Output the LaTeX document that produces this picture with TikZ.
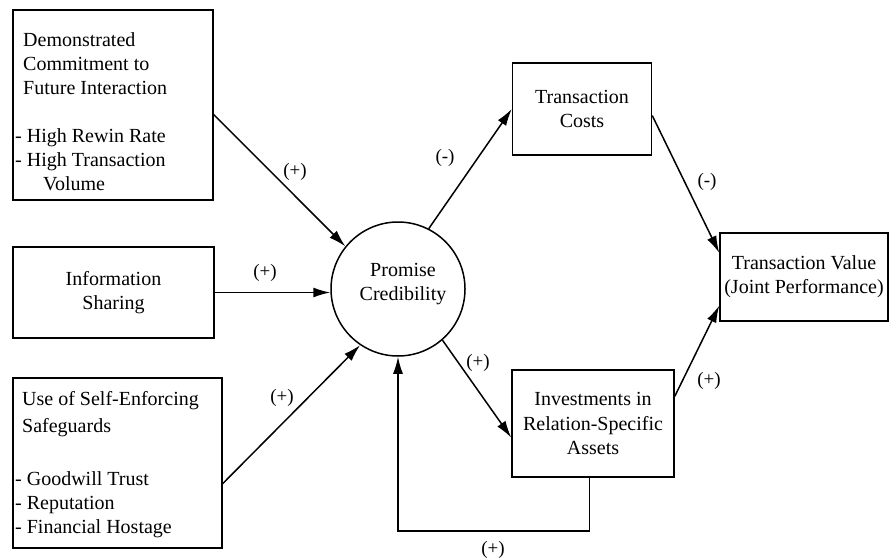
\documentclass[tikz,border=0pt]{standalone}
\usepackage{fontspec}
\setmainfont{Liberation Serif}
\usetikzlibrary{calc,arrows.meta}
\begin{document}
\begin{tikzpicture}[x=1pt,y=-1pt,
  box/.style={draw, line width=1.5pt, inner sep=0pt, rectangle},
  txt/.style={inner sep=0pt, align=left, anchor=north west},
  btxt/.style={align=center, font=\fontsize{20}{24}\selectfont},
  lbl/.style={inner sep=0pt, font=\fontsize{19}{22}\selectfont},
  arr/.style={line width=1.5pt, -{Latex[length=17pt,width=10pt]}},
]
\useasboundingbox (0,0) rectangle (890,559);

% left boxes
\node[box, minimum width=200pt, minimum height=190pt] (b1) at (113,105) {};
\node[txt, font=\fontsize{20}{24.3}\selectfont] (b1h) at (23,32)
  {Demonstrated\\Commitment to\\Future Interaction};
\node[txt, font=\fontsize{20}{24.3}\selectfont] (b1l) at (15,128)
  {- High Rewin Rate\\- High Transaction\\\hspace*{28pt}Volume};

\node[box, btxt, minimum width=201pt, minimum height=91pt] (b2) at (113.5,292.5)
  {Information\\Sharing};

\node[box, minimum width=209pt, minimum height=170pt] (b3) at (117.5,463) {};
\node[txt, font=\fontsize{20}{27}\selectfont] (b3h) at (22,391)
  {Use of Self-Enforcing\\Safeguards};
\node[txt, font=\fontsize{20}{24}\selectfont] (b3l) at (15,471)
  {- Goodwill Trust\\- Reputation\\- Financial Hostage};

% centre circle
\node[draw, circle, line width=1.5pt, minimum size=134pt, inner sep=0pt] (pc) at (398,289) {};
\node[btxt, inner sep=0pt] (pct) at (403,284.5) {Promise\\Credibility};

% right boxes
\node[box, btxt, minimum width=139pt, minimum height=92pt] (tc) at (582,109)
  {Transaction\\Costs};
\node[box, btxt, font=\fontsize{20}{24.5}\selectfont, minimum width=162pt, minimum height=107pt] (inv) at (593,423.5)
  {Investments in\\Relation-Specific\\Assets};
\node[box, btxt, minimum width=168pt, minimum height=88pt] (tv) at (804,277)
  {Transaction Value\\(Joint Performance)};

% connectors
\draw[arr] ($(b1.north east)!0.55!(b1.south east)$) -- (pc.141);
\draw[arr] (b2.east) -- (b2.east -| pc.west);
\draw[arr] ($(b3.north east)!0.62!(b3.south east)$) -- (pc.236);
\draw[arr] (pc.63) -- (tc.west);
\draw[arr] (pc.311) -- ($(inv.north west)!0.63!(inv.south west)$);
\draw[arr] ($(tc.north east)!0.57!(tc.south east)$) -- ($(tv.north west)!0.23!(tv.south west)$);
\draw[arr] ($(inv.north east)!0.25!(inv.south east)$) -- ($(tv.north west)!0.82!(tv.south west)$);
\coordinate (fbl) at (0,531);
\coordinate (invb) at ($(inv.south west)!0.48!(inv.south east)$);
\draw[arr] (invb) -- (invb |- fbl) -| (pc.south);

% labels
\node[lbl] (l1) at (295,172) {(+)};
\node[lbl] (l2) at (265,273) {(+)};
\node[lbl] (l3) at (282,398) {(+)};
\node[lbl] (l4) at (445,158) {(-)};
\node[lbl] (l5) at (478,363) {(+)};
\node[lbl] (l6) at (707,182) {(-)};
\node[lbl] (l7) at (709,381) {(+)};
\node[lbl] (l8) at (493,550) {(+)};
\end{tikzpicture}
\end{document}
